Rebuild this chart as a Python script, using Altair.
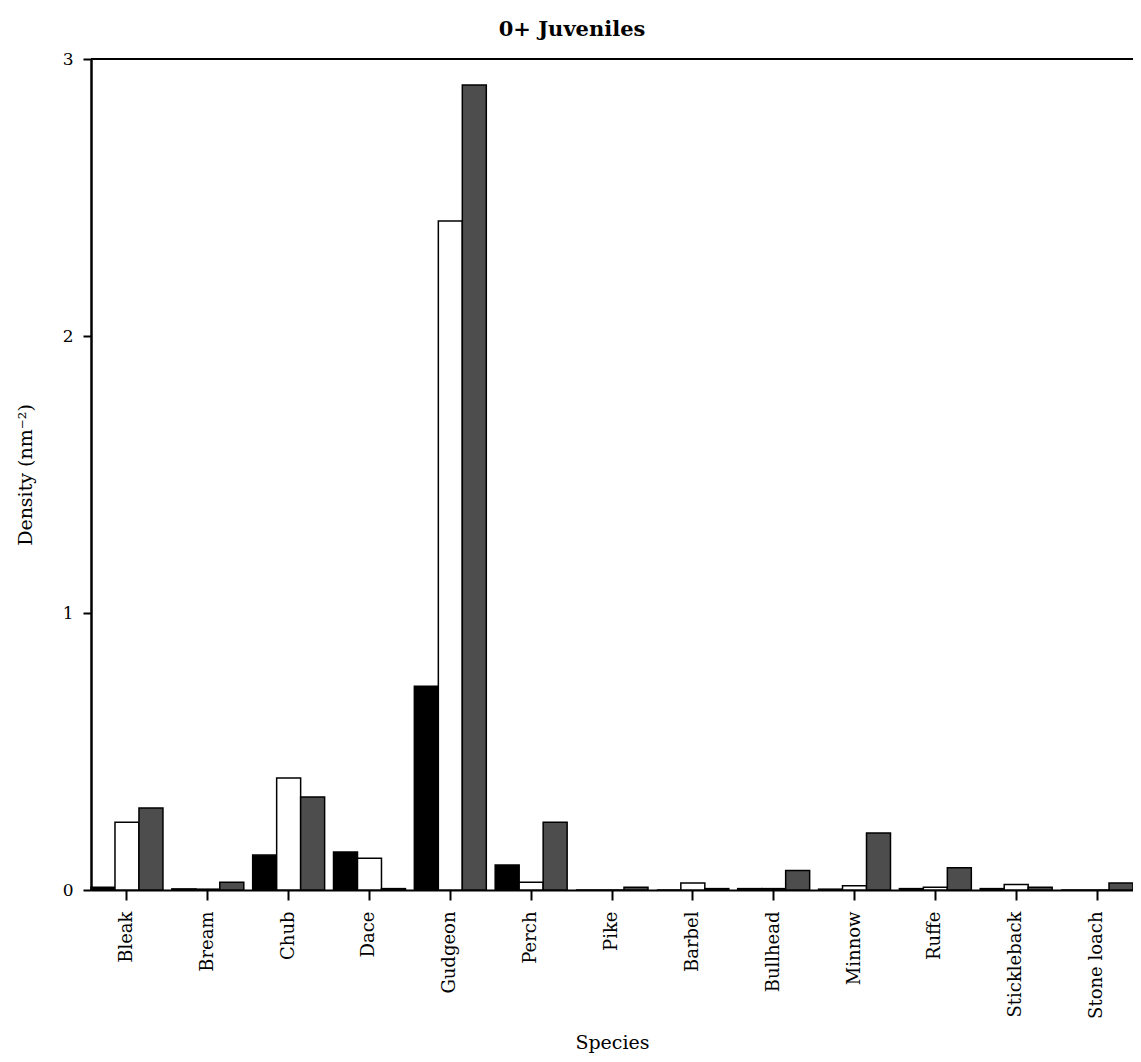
import altair as alt
import pandas as pd

species = ["Bleak", "Bream", "Chub", "Dace", "Gudgeon", "Perch", "Pike",
           "Barbel", "Bullhead", "Minnow", "Ruffe", "Stickleback", "Stone loach"]
series_names = ["Series 1", "Series 2", "Series 3"]
black_vals = [0.01, 0.004, 0.126, 0.137, 0.736, 0.09, 0.0, 0.0, 0.005, 0.003, 0.005, 0.005, 0.0]
white_vals = [0.245, 0.003, 0.404, 0.115, 2.415, 0.028, 0.0, 0.025, 0.005, 0.015, 0.01, 0.02, 0.0]
gray_vals = [0.296, 0.028, 0.336, 0.005, 2.906, 0.245, 0.01, 0.005, 0.07, 0.206, 0.08, 0.01, 0.025]

rows = []
for i, sp in enumerate(species):
    for s, vals in zip(series_names, [black_vals, white_vals, gray_vals]):
        rows.append({"Species": sp, "Series": s, "Density": vals[i]})
df = pd.DataFrame(rows)

FONT = "DejaVu Serif"

bars = alt.Chart(df).mark_bar(stroke="black", strokeWidth=1.5).encode(
    x=alt.X("Species:N", sort=species,
            scale=alt.Scale(paddingInner=0.11, paddingOuter=0.0),
            axis=alt.Axis(title="Species", labelAngle=-90, labelFontSize=18,
                          titleFontSize=19, titleFontWeight="normal",
                          titleY=158, titleBaseline="alphabetic",
                          tickSize=10, tickWidth=2,
                          domainWidth=2, domainColor="black", tickColor="black",
                          labelColor="black", titleColor="black", labelPadding=11,
                          labelFont=FONT, titleFont=FONT)),
    xOffset=alt.XOffset("Series:N", sort=series_names, scale=alt.Scale(paddingInner=0)),
    y=alt.Y("Density:Q", scale=alt.Scale(domain=[0, 3], nice=False),
            axis=alt.Axis(title="Density (nm⁻²)", values=[0, 1, 2, 3], format="d",
                          grid=False, labelFontSize=17, titleFontSize=19,
                          titleFontWeight="normal", tickSize=8, tickWidth=2,
                          domainWidth=2.5, domainColor="black", tickColor="black",
                          labelColor="black", titleColor="black", titlePadding=27,
                          labelPadding=10, labelFont=FONT, titleFont=FONT)),
    fill=alt.Fill("Series:N", sort=series_names,
                  scale=alt.Scale(domain=series_names, range=["#000000", "#ffffff", "#4d4d4d"]),
                  legend=None),
)

top_line = alt.Chart(pd.DataFrame({"y": [3]})).mark_rule(color="black", strokeWidth=2).encode(
    y="y:Q"
)

chart = alt.layer(bars, top_line).properties(
    width=1042, height=831,
    title=alt.TitleParams("0+ Juveniles", font=FONT, fontSize=21, fontWeight="bold",
                          color="black", offset=10, dx=-40),
    autosize=alt.AutoSizeParams(type="none"),
    padding={"left": 83, "top": 51, "right": 0, "bottom": 164},
).configure_view(stroke=None).configure(background="white")

chart.save("out.html", embed_options={"renderer": "svg", "actions": False})
